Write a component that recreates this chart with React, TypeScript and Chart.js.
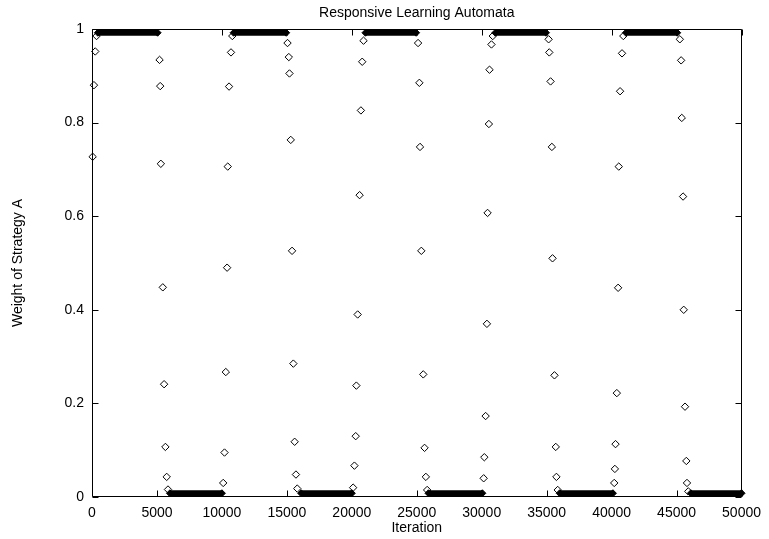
import { useEffect, useRef } from 'react';
import { Chart, registerables } from 'chart.js';

Chart.register(...registerables);

const chartTitle = 'Responsive Learning Automata';
const xTitle = 'Iteration';
const yTitle = 'Weight of Strategy A';

const xTickLabels = ['0', '5000', '10000', '15000', '20000', '25000', '30000', '35000', '40000', '45000', '50000'];
const yTickLabels = ['0', '0.2', '0.4', '0.6', '0.8', '1'];

// plateaus (dense bands of markers)
const highWeight = 0.992;
const lowWeight = 0.008;
const highStart = [450, 10900, 21050, 31050, 41100];
const highEnd = [5050, 14950, 24950, 34950, 45050];
const lowStart = [6000, 16100, 25900, 36000, 46100];
const lowEnd = [10000, 20000, 30050, 40100, 50000];

// transition points
const startIter = [50, 150, 250, 350];
const startWeight = [0.727, 0.88, 0.952, 0.985];
const drop1Iter = [5200, 5250, 5300, 5450, 5550, 5650, 5750, 5850];
const drop1Weight = [0.934, 0.878, 0.712, 0.448, 0.241, 0.107, 0.043, 0.016];
const rise1Iter = [10100, 10200, 10300, 10400, 10450, 10550, 10700, 10800];
const rise1Weight = [0.03, 0.095, 0.267, 0.49, 0.706, 0.877, 0.95, 0.985];
const drop2Iter = [15050, 15150, 15200, 15300, 15400, 15500, 15600, 15700, 15800];
const drop2Weight = [0.97, 0.94, 0.905, 0.763, 0.526, 0.285, 0.118, 0.048, 0.018];
const rise2Iter = [20100, 20200, 20300, 20350, 20450, 20600, 20700, 20800, 20900];
const rise2Weight = [0.02, 0.067, 0.13, 0.238, 0.39, 0.645, 0.826, 0.93, 0.975];
const drop3Iter = [25100, 25200, 25250, 25350, 25500, 25600, 25700, 25800];
const drop3Weight = [0.97, 0.885, 0.748, 0.526, 0.262, 0.105, 0.043, 0.015];
const rise3Iter = [30150, 30200, 30300, 30400, 30450, 30550, 30600, 30750, 30850];
const rise3Weight = [0.04, 0.085, 0.173, 0.37, 0.607, 0.797, 0.913, 0.967, 0.985];
const drop4Iter = [35150, 35200, 35300, 35400, 35450, 35600, 35700, 35750, 35850];
const drop4Weight = [0.978, 0.95, 0.888, 0.748, 0.51, 0.26, 0.107, 0.043, 0.015];
const rise4Iter = [40200, 40250, 40300, 40400, 40500, 40550, 40650, 40800, 40900];
const rise4Weight = [0.03, 0.06, 0.113, 0.222, 0.447, 0.706, 0.867, 0.948, 0.985];
const drop5Iter = [45250, 45350, 45400, 45500, 45550, 45650, 45750, 45800, 45900];
const drop5Weight = [0.978, 0.933, 0.81, 0.642, 0.4, 0.193, 0.077, 0.03, 0.012];

const FONT = '"Liberation Sans", Arial, Helvetica, sans-serif';

const framePlugin = {
  id: 'gnuplotFrame',
  beforeDatasetsDraw(chart: any) {
    const { ctx, chartArea: a, scales } = chart;
    const x = scales.x;
    const y = scales.y;
    const L = Math.round(a.left) + 0.5;
    const R = Math.round(a.right) - 0.5;
    const T = Math.round(a.top) + 0.5;
    const B = Math.round(a.bottom) - 0.5;
    const len = 6;
    ctx.save();
    ctx.strokeStyle = '#000';
    ctx.lineWidth = 1;
    ctx.beginPath();
    ctx.rect(L, T, R - L, B - T);
    x.ticks.forEach((t: any) => {
      const px = Math.round(x.getPixelForValue(t.value)) + 0.5;
      ctx.moveTo(px, B);
      ctx.lineTo(px, B - len);
      ctx.moveTo(px, T);
      ctx.lineTo(px, T + len);
    });
    y.ticks.forEach((t: any) => {
      const py = Math.round(y.getPixelForValue(t.value)) + 0.5;
      ctx.moveTo(L, py);
      ctx.lineTo(L + len, py);
      ctx.moveTo(R, py);
      ctx.lineTo(R - len, py);
    });
    ctx.stroke();
    ctx.fillStyle = '#000';
    ctx.font = '14px ' + FONT;
    ctx.textAlign = 'center';
    ctx.textBaseline = 'alphabetic';
    ctx.fillText(chartTitle, (a.left + a.right) / 2, 17);
    ctx.restore();
  },
};

export default function App() {
  const ref = useRef<HTMLCanvasElement | null>(null);

  useEffect(() => {
    if (!ref.current) return;
    const iters = [startIter, drop1Iter, rise1Iter, drop2Iter, rise2Iter, drop3Iter, rise3Iter, drop4Iter, rise4Iter, drop5Iter];
    const weights = [startWeight, drop1Weight, rise1Weight, drop2Weight, rise2Weight, drop3Weight, rise3Weight, drop4Weight, rise4Weight, drop5Weight];
    const transitionPts: { x: number; y: number }[] = [];
    iters.forEach((arr, k) => arr.forEach((it, i) => transitionPts.push({ x: it, y: weights[k][i] })));

    const band = (s: number, e: number, v: number) => ({
      data: [{ x: s, y: v }, { x: e, y: v }],
      showLine: true,
      borderColor: '#000',
      borderWidth: 6,
      pointStyle: 'rectRot',
      pointRadius: 3.5,
      pointBackgroundColor: '#000',
      pointBorderColor: '#000',
      pointBorderWidth: 1,
      clip: false,
    });

    const datasets: any[] = [
      {
        data: transitionPts,
        showLine: false,
        pointStyle: 'rectRot',
        pointRadius: 3.7,
        pointBorderWidth: 1,
        pointBorderColor: '#000',
        pointBackgroundColor: 'rgba(0,0,0,0)',
        clip: false,
      },
      ...highStart.map((s, i) => band(s, highEnd[i], highWeight)),
      ...lowStart.map((s, i) => band(s, lowEnd[i], lowWeight)),
    ];

    const chart = new Chart(ref.current, {
      type: 'scatter',
      data: { datasets },
      options: {
        animation: false,
        responsive: true,
        maintainAspectRatio: false,
        events: [],
        layout: { padding: { top: 29, right: 23, left: 0, bottom: 0 } },
        plugins: {
          legend: { display: false },
          tooltip: { enabled: false },
          title: { display: false },
        },
        scales: {
          x: {
            type: 'linear',
            min: 0,
            max: 50000,
            grid: { display: false, drawTicks: false },
            border: { display: false },
            ticks: {
              stepSize: 5000,
              autoSkip: false,
              maxRotation: 0,
              padding: 8,
              color: '#000',
              font: { family: FONT, size: 14 },
              callback: (_v: any, i: number) => xTickLabels[i],
            },
            title: {
              display: true,
              text: xTitle,
              color: '#000',
              font: { family: FONT, size: 14, lineHeight: 1.2 },
              padding: { top: 0, bottom: 2 },
            },
            afterFit: (s: any) => {
              s.height = 42;
            },
          },
          y: {
            type: 'linear',
            min: 0,
            max: 1,
            grid: { display: false, drawTicks: false },
            border: { display: false },
            ticks: {
              stepSize: 0.2,
              padding: 8,
              color: '#000',
              font: { family: FONT, size: 14 },
              callback: (_v: any, i: number) => yTickLabels[i],
            },
            title: {
              display: true,
              text: yTitle,
              color: '#000',
              font: { family: FONT, size: 14, lineHeight: 1.2 },
              padding: { top: 10, bottom: 0 },
            },
            afterFit: (s: any) => {
              s.width = 92;
            },
          },
        },
      } as any,
      plugins: [framePlugin],
    });
    return () => chart.destroy();
  }, []);

  return (
    <div style={{ position: 'fixed', left: 0, top: 0, width: 769, height: 539, background: '#fff' }}>
      <canvas ref={ref} />
    </div>
  );
}
